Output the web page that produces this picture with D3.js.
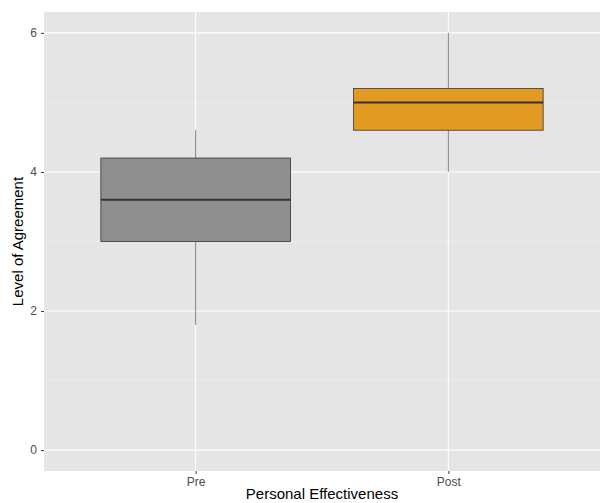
<!DOCTYPE html><html><head><script src="https://d3js.org/d3.v7.min.js"></script>
<style>body{margin:0;background:#fff}text{font-family:"Liberation Sans",Arial,sans-serif}</style></head><body><svg width="606" height="503"></svg><script>
const categories=["Pre","Post"];
const mins=[1.8,4.0],q1s=[3.0,4.6],medians=[3.6,5.0],q3s=[4.2,5.2],maxs=[4.6,6.0];
const fills=["#8f8f8f","#e29a23"];
const yTicks=[0,2,4,6];
const L=44,R=600,T=12,B=471;
const svg=d3.select("svg");
const x=d3.scalePoint().domain(categories).range([L,R]).padding(0.6);
const bw=x.step()*0.75;
const y=d3.scaleLinear().domain([-0.3,6.3]).range([B,T]);
svg.append("rect").attr("x",L).attr("y",T).attr("width",R-L).attr("height",B-T).attr("fill","#e5e5e5");
[1,3,5].forEach(v=>svg.append("line").attr("x1",L).attr("x2",R).attr("y1",y(v)).attr("y2",y(v)).attr("stroke","#f2f2f2").attr("stroke-width",0.6));
yTicks.forEach(v=>svg.append("line").attr("x1",L).attr("x2",R).attr("y1",y(v)).attr("y2",y(v)).attr("stroke","#fff").attr("stroke-width",1.1));
categories.forEach(c=>svg.append("line").attr("x1",x(c)).attr("x2",x(c)).attr("y1",T).attr("y2",B).attr("stroke","#fff").attr("stroke-width",1.1));
const ya=svg.append("g").attr("transform",`translate(${L},0)`).call(d3.axisLeft(y).tickValues(yTicks).tickFormat(d3.format("d")).tickSize(3).tickPadding(4));
const xa=svg.append("g").attr("transform",`translate(0,${B})`).call(d3.axisBottom(x).tickSize(3).tickPadding(3));
[ya,xa].forEach(a=>{a.select(".domain").remove();a.selectAll("line").attr("stroke","#333");a.selectAll("text").attr("fill","#4d4d4d").attr("font-size",12);});
categories.forEach((c,i)=>{
 const g=svg.append("g"),cx=x(c);
 g.append("line").attr("x1",cx).attr("x2",cx).attr("y1",y(maxs[i])).attr("y2",y(q3s[i])).attr("stroke","#333").attr("stroke-width",0.6);
 g.append("line").attr("x1",cx).attr("x2",cx).attr("y1",y(q1s[i])).attr("y2",y(mins[i])).attr("stroke","#333").attr("stroke-width",0.6);
 g.append("rect").attr("x",cx-bw/2).attr("width",bw).attr("y",y(q3s[i])).attr("height",y(q1s[i])-y(q3s[i])).attr("fill",fills[i]).attr("stroke","#333").attr("stroke-width",0.8);
 g.append("line").attr("x1",cx-bw/2).attr("x2",cx+bw/2).attr("y1",y(medians[i])).attr("y2",y(medians[i])).attr("stroke","#333").attr("stroke-width",2);
});
svg.append("text").attr("x",(L+R)/2).attr("y",499).attr("text-anchor","middle").attr("font-size",15).attr("fill","#000").text("Personal Effectiveness");
svg.append("text").attr("transform",`translate(23,${(T+B)/2}) rotate(-90)`).attr("text-anchor","middle").attr("font-size",15).attr("fill","#000").text("Level of Agreement");
</script></body></html>
